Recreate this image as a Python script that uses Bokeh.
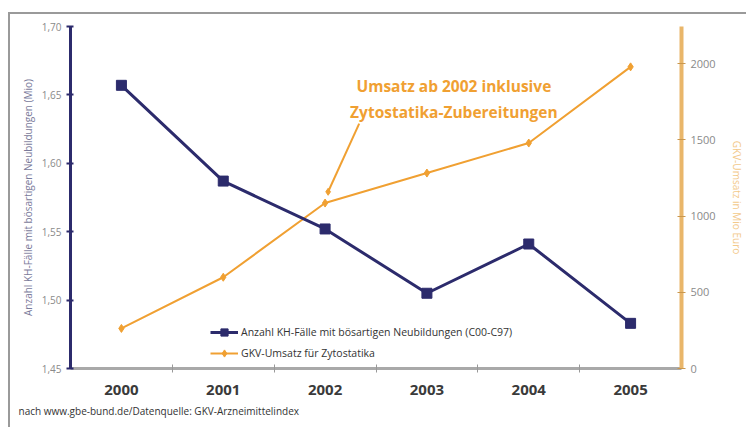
from bokeh.plotting import figure
from bokeh.models import (Range1d, LinearAxis, FixedTicker, CustomJSTickFormatter,
                          Legend, LegendItem, Label, Title, InlineStyleSheet,
                          ColumnDataSource)
from bokeh.embed import file_html
from bokeh.resources import INLINE

years = ["2000", "2001", "2002", "2003", "2004", "2005"]
faelle_mio = [1.657, 1.587, 1.552, 1.505, 1.541, 1.483]
umsatz_mio_eur = [263, 599, 1086, 1283, 1480, 1980]
left_ticks = [1.45, 1.50, 1.55, 1.60, 1.65, 1.70]
right_ticks = [0, 500, 1000, 1500, 2000]
series_blue = "Anzahl KH-Fälle mit bösartigen Neubildungen (C00-C97)"
series_orange = "GKV-Umsatz für Zytostatika"
left_title = "Anzahl KH-Fälle mit bösartigen Neubildungen (Mio)"
right_title = "GKV-Umsatz in Mio Euro"
note_lines = "Umsatz ab 2002 inklusive\nZytostatika-Zubereitungen"
source_text = "nach www.gbe-bund.de/Datenquelle: GKV-Arzneimittelindex"

NAVY = "#2c2b6c"
ORANGE = "#f0a032"
TAN = "#e9b66a"
FONT = "Open Sans"

xs = list(range(len(years)))

p = figure(width=746, height=427, output_backend="svg", toolbar_location=None,
           x_range=Range1d(-0.5, len(years) - 0.5), y_range=Range1d(1.45, 1.70),
           min_border_left=70, min_border_right=56, min_border_top=26, min_border_bottom=59,
           x_axis_location=None, y_axis_location=None)
p.outline_line_color = None
p.grid.visible = False
p.background_fill_color = "white"
p.border_fill_color = "white"
p.extra_y_ranges = {"right": Range1d(0, 2245)}

# grey frame of the whole graphic (top and left edges visible)
p.stylesheets = [InlineStyleSheet(css="""
:host::after {
  content: ""; position: absolute; left: 8px; top: 12px; width: 760px; height: 440px;
  border: 2px solid #9a9a9a; box-sizing: border-box; pointer-events: none;
}
""")]

# x axis
xaxis = LinearAxis(ticker=FixedTicker(ticks=xs, minor_ticks=[i + 0.5 for i in xs[:-1]]),
                   major_label_overrides={i: y for i, y in enumerate(years)})
xaxis.axis_line_color = "#a9a9a9"
xaxis.axis_line_width = 3
xaxis.major_tick_in = 0
xaxis.major_tick_out = 0
xaxis.minor_tick_in = 4
xaxis.minor_tick_out = 4
xaxis.minor_tick_line_color = "#999999"
xaxis.major_label_text_font = FONT
xaxis.major_label_text_font_style = "bold"
xaxis.major_label_text_font_size = "15px"
xaxis.major_label_text_color = "#3a3a3a"
xaxis.major_label_standoff = 12
p.add_layout(xaxis, "below")

# left axis
laxis = LinearAxis(ticker=FixedTicker(ticks=left_ticks, minor_ticks=[]),
                   formatter=CustomJSTickFormatter(code="return tick.toFixed(2).replace('.', ',');"),
                   axis_label=left_title)
laxis.axis_line_color = NAVY
laxis.axis_line_width = 3
laxis.major_tick_line_color = NAVY
laxis.major_tick_line_width = 2
laxis.major_tick_in = 3
laxis.major_tick_out = 4
laxis.major_label_text_font = FONT
laxis.major_label_text_font_size = "10px"
laxis.major_label_text_color = "#8a8a8a"
laxis.major_label_standoff = 5
laxis.axis_label_text_font = FONT
laxis.axis_label_text_font_size = "10px"
laxis.axis_label_text_font_style = "normal"
laxis.axis_label_text_color = "#7a7a9a"
laxis.axis_label_standoff = 4
p.add_layout(laxis, "left")

# right axis
raxis = LinearAxis(y_range_name="right", ticker=FixedTicker(ticks=right_ticks, minor_ticks=[]),
                   axis_label=right_title)
raxis.axis_line_color = TAN
raxis.axis_line_width = 4
raxis.major_tick_line_color = "#c9974e"
raxis.major_tick_in = 4
raxis.major_tick_out = 4
raxis.major_label_text_font = FONT
raxis.major_label_text_font_size = "11px"
raxis.major_label_text_color = "#8a8a8a"
raxis.major_label_standoff = 5
raxis.axis_label_text_font = FONT
raxis.axis_label_text_font_size = "10px"
raxis.axis_label_text_font_style = "normal"
raxis.axis_label_text_color = "#f3c98a"
raxis.axis_label_standoff = 11
p.add_layout(raxis, "right")

src = ColumnDataSource(dict(x=xs, faelle=faelle_mio, umsatz=umsatz_mio_eur))

# annotation pointer (from note to the 2002 point)
i2002 = years.index("2002")
p.segment(x0=i2002 + 0.335, y0=1607, x1=i2002 + 0.03, y1=1160, y_range_name="right",
          line_color=ORANGE, line_width=2)
p.scatter(x=[i2002 + 0.03], y=[1160], y_range_name="right", marker="diamond",
          size=7, color=ORANGE)

ol = p.line("x", "umsatz", source=src, y_range_name="right", line_color=ORANGE, line_width=2)
om = p.scatter("x", "umsatz", source=src, y_range_name="right", marker="diamond",
               size=8, color=ORANGE)
bl = p.line("x", "faelle", source=src, line_color=NAVY, line_width=3)
bm = p.scatter("x", "faelle", source=src, marker="square", size=10, color=NAVY)

p.add_layout(Label(x=i2002 + 1.265, y=1770, y_range_name="right", text=note_lines,
                   text_align="center", text_baseline="middle",
                   text_font=FONT, text_font_style="bold", text_font_size="15.5px",
                   text_color=ORANGE, text_line_height=1.2))

legend = Legend(items=[LegendItem(label=series_blue, renderers=[bl, bm]),
                       LegendItem(label=series_orange, renderers=[ol, om])],
                location=(140, 6), background_fill_alpha=0, border_line_color=None,
                label_text_font=FONT, label_text_font_size="10.5px", label_text_color="#333333",
                glyph_width=28, glyph_height=18, label_height=18, spacing=3, padding=4,
                label_standoff=3)
p.add_layout(legend, "center")

p.add_layout(Title(text=source_text, align="left", offset=-52, standoff=8, text_font=FONT,
                   text_font_size="10px", text_font_style="normal", text_color="#333333"),
             "below")

open("out.html", "w").write(file_html(p, INLINE))
